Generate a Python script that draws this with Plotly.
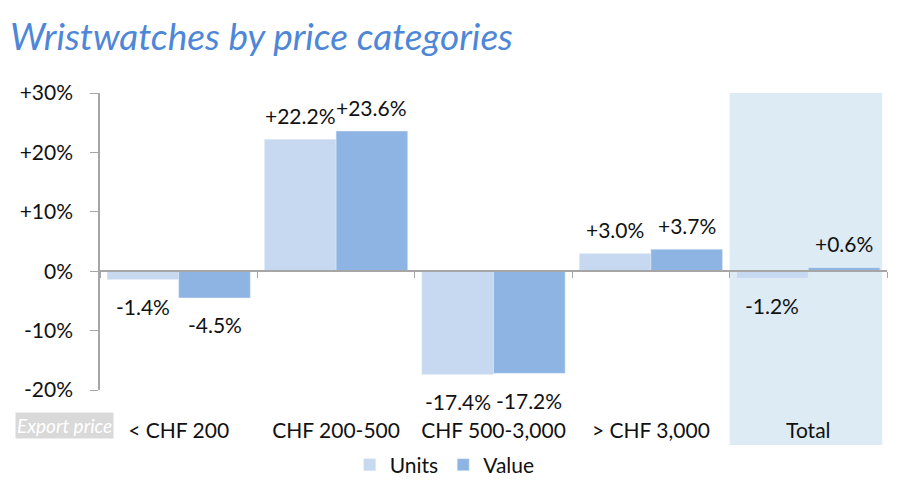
import plotly.graph_objects as go

categories = ["< CHF 200", "CHF 200-500", "CHF 500-3,000", "> CHF 3,000", "Total"]
units = [-1.4, 22.2, -17.4, 3.0, -1.2]
value = [-4.5, 23.6, -17.2, 3.7, 0.6]
ytick_vals = [-20, -10, 0, 10, 20, 30]
ytick_text = ["-20%", "-10%", "0%", "+10%", "+20%", "+30%"]

def fmt(v):
    return ("+" if v > 0 else "") + f"{v:.1f}%"

FONT = "Lato"
FS = 21
BARGAP = 0.09
PLOT_W = 900 - 100 - 13
half_bar = PLOT_W / len(categories) * (1 - BARGAP) / 4

fig = go.Figure()
fig.add_trace(go.Bar(x=categories, y=units, name="Units", marker_color="#c6d9f1"))
fig.add_trace(go.Bar(x=categories, y=value, name="Value", marker_color="#8db4e2"))

for series, sign in ((units, -1), (value, 1)):
    for c, v in zip(categories, series):
        fig.add_annotation(x=c, y=v, text=fmt(v), showarrow=False,
                           xanchor="center", yanchor="middle",
                           xshift=sign * half_bar,
                           yshift=24 if v >= 0 else -27,
                           font=dict(size=FS, color="#111"))

fig.update_layout(
    width=900, height=496,
    margin=dict(l=100, r=13, t=93, b=106, autoexpand=False),
    paper_bgcolor="white", plot_bgcolor="rgba(0,0,0,0)",
    font=dict(family=FONT, size=FS, color="#111"),
    barmode="group", bargap=BARGAP, bargroupgap=0,
    title=dict(text="<i>Wristwatches by price categories</i>", x=0.011, xanchor="left",
               y=0.925, yanchor="middle", font=dict(family=FONT, size=37, color="#4f87d8")),
    xaxis=dict(type="category", range=[-0.5, 4.5], showline=False, showgrid=False,
               ticks="outside", ticklen=22, tickcolor="rgba(0,0,0,0)",
               tickfont=dict(size=FS, color="#111")),
    xaxis2=dict(overlaying="x", anchor="free", position=0.4, range=[-0.5, 4.5],
                tickvals=[-0.5, 0.5, 1.5, 2.5, 3.5, 4.5], ticks="outside", ticklen=6,
                tickcolor="#a6a6a6", showline=True, linecolor="#a6a6a6", linewidth=1.5,
                showticklabels=False, showgrid=False, zeroline=False),
    yaxis=dict(range=[-20, 30], tickvals=ytick_vals, ticktext=ytick_text,
               showline=True, linecolor="#a6a6a6", linewidth=1.5, ticks="outside",
               ticklen=8, tickcolor="#a6a6a6", showgrid=False, zeroline=False,
               ticklabelstandoff=13, tickfont=dict(size=FS, color="#111")),
    legend=dict(orientation="h", x=0.438, xanchor="center", y=-0.2525, yanchor="middle",
                font=dict(size=FS), itemwidth=30, traceorder="normal"),
    showlegend=True,
)
fig.add_trace(go.Scatter(x=[-0.5, 4.5], y=[0, 0], xaxis="x2", mode="lines",
                         line=dict(color="#a6a6a6", width=0), showlegend=False, hoverinfo="skip"))

fig.add_shape(type="rect", xref="x", yref="paper", x0=3.5, x1=4.47, y0=-0.185, y1=1,
              fillcolor="#ddebf4", line_width=0, layer="below")

fig.add_annotation(text="<i>Export price</i>", xref="paper", yref="paper",
                   x=-0.108, y=-0.12, xanchor="left", yanchor="middle", showarrow=False,
                   bgcolor="#d9d9d9", font=dict(size=19, color="white"), borderpad=1)

fig.write_html("out.html")
